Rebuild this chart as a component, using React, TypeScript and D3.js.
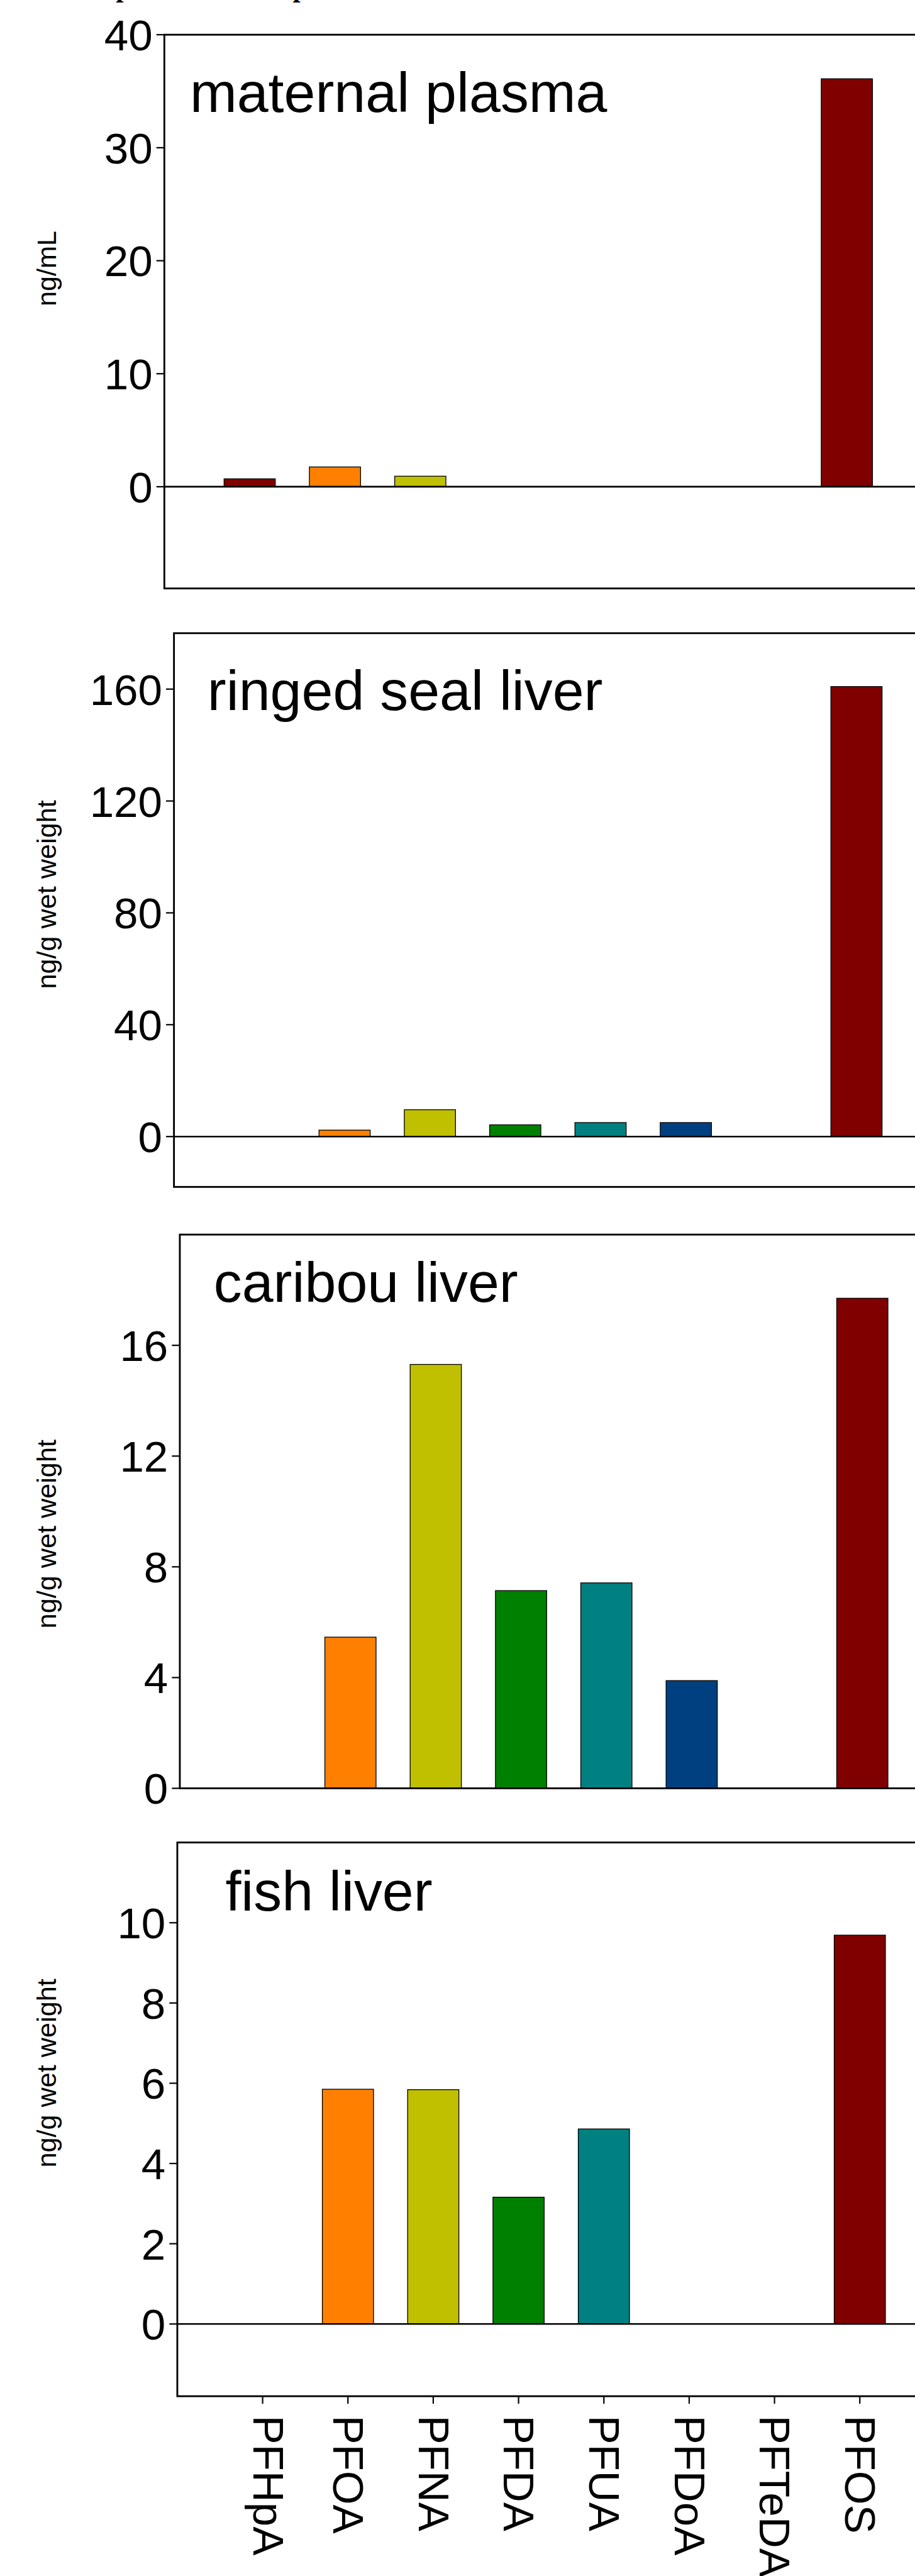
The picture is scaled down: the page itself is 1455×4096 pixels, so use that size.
import React from "react";
import * as d3 from "d3";

// ---- data ----
const categories = ["PFHpA", "PFOA", "PFNA", "PFDA", "PFUA", "PFDoA", "PFTeDA", "PFOS"];
const barColors = ["#800000", "#FF8000", "#C0C000", "#008000", "#008080", "#004080", "#808080", "#800000"];

const maternalPlasma = [0.7, 1.75, 0.93, 0, 0, 0, 0, 36.1];
const ringedSealLiver = [0, 2.3, 9.6, 4.2, 5.0, 5.0, 0, 160.9];
const caribouLiver = [0, 5.46, 15.31, 7.14, 7.42, 3.89, 0, 17.7];
const fishLiver = [0, 5.85, 5.84, 3.16, 4.86, 0, 0, 9.69];

const maternalTicks = [0, 10, 20, 30, 40];
const sealTicks = [0, 40, 80, 120, 160];
const caribouTicks = [0, 4, 8, 12, 16];
const fishTicks = [0, 2, 4, 6, 8, 10];

const panelTitles = ["maternal plasma", "ringed seal liver", "caribou liver", "fish liver"];
const unitLabels = ["ng/mL", "ng/g wet weight", "ng/g wet weight", "ng/g wet weight"];

// ---- layout (reference pixel units, scaled by S) ----
const S = 0.665;
const SLOT = 204;
const PLOT_H = 1324;
const SANS = "'Liberation Sans', Arial, Helvetica, sans-serif";

const panels = [
  { values: maternalPlasma, ticks: maternalTicks, domain: [-9, 40], left: 393, top: 83, titleX: 454, titleY: 267, unitY: 642, xAxis: false },
  { values: ringedSealLiver, ticks: sealTicks, domain: [-18, 180], left: 416, top: 1514, titleX: 496, titleY: 1698, unitY: 2139, xAxis: false },
  { values: caribouLiver, ticks: caribouTicks, domain: [0, 20], left: 430, top: 2952, titleX: 511, titleY: 3113, unitY: 3668, xAxis: false },
  { values: fishLiver, ticks: fishTicks, domain: [-1.8, 12], left: 424, top: 4405.5, titleX: 539, titleY: 4568, unitY: 4957, xAxis: true },
];

function Panel({ p, idx }: { p: any; idx: number }) {
  const x = d3.scaleLinear().domain([0, 9]).range([p.left, p.left + 9 * SLOT]);
  const y = d3.scaleLinear().domain(p.domain).range([p.top + PLOT_H, p.top]);
  const bw = 0.6 * SLOT;
  const bottom = p.top + PLOT_H;
  return (
    <g>
      {/* bars */}
      {p.values.map((v: number, i: number) =>
        v > 0 ? (
          <rect
            key={i}
            x={x(i + 1) - bw / 2}
            y={y(v)}
            width={bw}
            height={y(0) - y(v)}
            fill={barColors[i]}
            stroke="#000"
            strokeWidth={2}
          />
        ) : null
      )}
      {/* zero line */}
      {p.domain[0] < 0 && (
        <line x1={p.left} x2={p.left + 9 * SLOT} y1={y(0)} y2={y(0)} stroke="#000" strokeWidth={4} />
      )}
      {/* frame */}
      <rect x={p.left} y={p.top} width={9 * SLOT} height={PLOT_H} fill="none" stroke="#000" strokeWidth={4.3} />
      {/* y ticks */}
      {p.ticks.map((t: number) => (
        <g key={t}>
          <line x1={p.left - 19} x2={p.left} y1={y(t)} y2={y(t)} stroke="#000" strokeWidth={3.3} />
          <text x={p.left - 28} y={y(t)} dy="0.36em" textAnchor="end" fontFamily={SANS} fontSize={104} fill="#000">
            {t}
          </text>
        </g>
      ))}
      {/* panel title */}
      <text x={p.titleX} y={p.titleY} fontFamily={SANS} fontSize={135} fill="#000">
        {panelTitles[idx]}
      </text>
      {/* unit label */}
      <text
        transform={`translate(134,${p.unitY}) rotate(-90)`}
        textAnchor="middle"
        fontFamily={SANS}
        fontSize={65}
        fill="#000"
      >
        {unitLabels[idx]}
      </text>
      {/* x axis ticks + labels */}
      {p.xAxis &&
        categories.map((c, i) => {
          const cx = x(i + 1);
          const hasDesc = /[pgqyj]/.test(c);
          const bx = cx - (hasDesc ? 22 : 35);
          return (
            <g key={c}>
              <line x1={cx} x2={cx} y1={bottom} y2={bottom + 18} stroke="#000" strokeWidth={3.3} />
              <text
                transform={`translate(${bx},${5775}) rotate(90)`}
                fontFamily={SANS}
                fontSize={104}
                fill="#000"
              >
                {c}
              </text>
            </g>
          );
        })}
    </g>
  );
}

export default function App() {
  return (
    <svg
      width={1455}
      height={4096}
      viewBox="0 0 1455 4096"
      style={{ position: "absolute", left: 0, top: 0, background: "#fff" }}
    >
      <rect x={0} y={0} width={1455} height={4096} fill="#fff" />
      <g transform={`scale(${S})`}>
        {/* cut-off caption above the figure: only descender feet are visible */}
        <text x={277} y={-7} fontFamily="'Liberation Serif', 'Times New Roman', serif" fontWeight="bold" fontSize={66} fill="#000">
          p
        </text>
        <text x={700} y={-7} fontFamily="'Liberation Serif', 'Times New Roman', serif" fontWeight="bold" fontSize={66} fill="#000">
          p
        </text>
        {panels.map((p, i) => (
          <Panel key={i} p={p} idx={i} />
        ))}
      </g>
    </svg>
  );
}
